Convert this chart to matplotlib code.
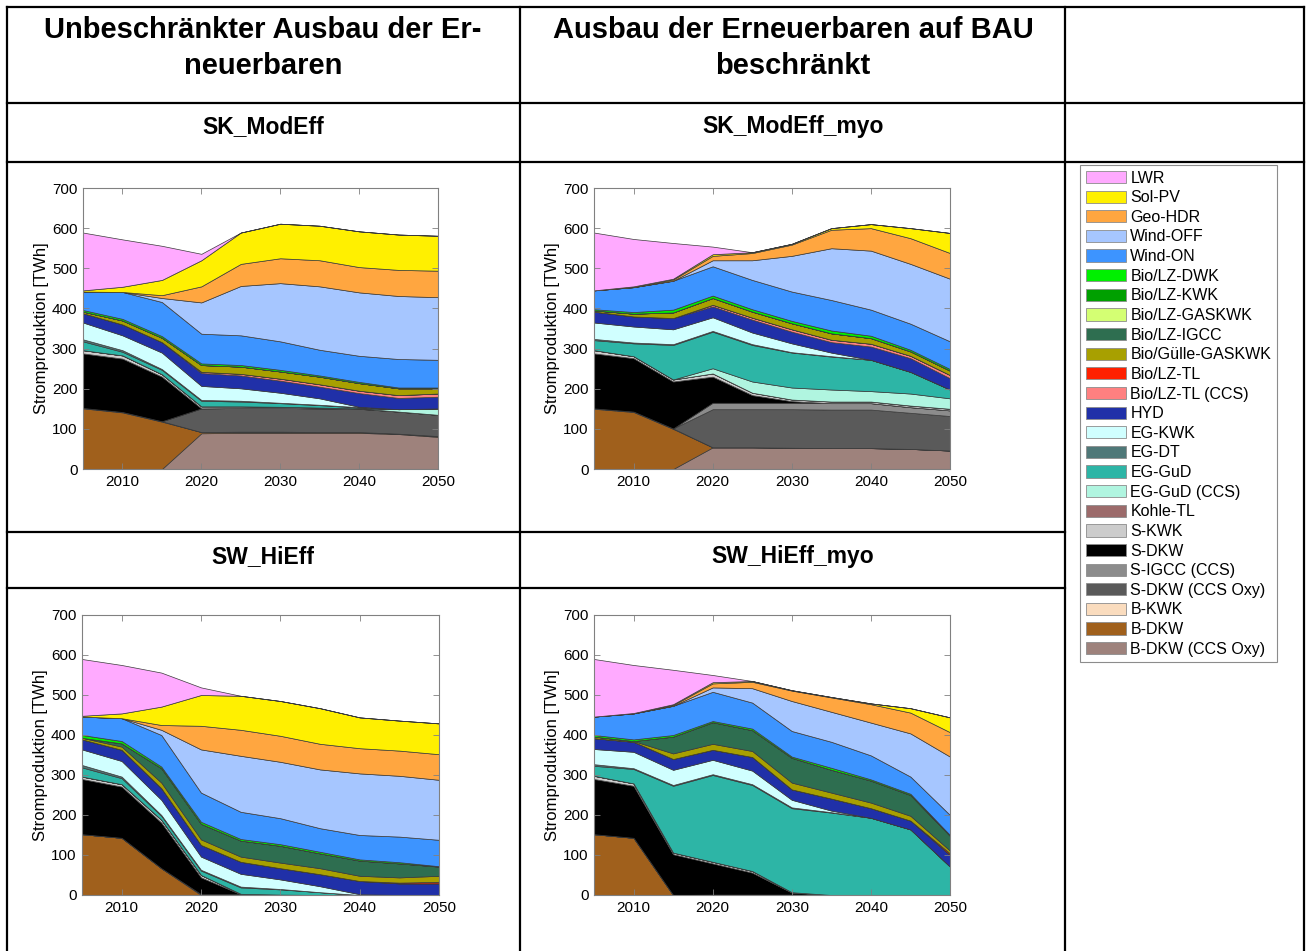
import matplotlib

matplotlib.use("Agg")

import matplotlib.pyplot as plt
import numpy as np
from matplotlib.lines import Line2D
from matplotlib.patches import Patch

plt.rcParams["font.family"] = ["Liberation Sans", "DejaVu Sans"]

W, H = 1308, 951

YEARS = [2005, 2010, 2015, 2020, 2025, 2030, 2035, 2040, 2045, 2050]

TECHS = [
    "LWR", "Sol-PV", "Geo-HDR", "Wind-OFF", "Wind-ON",
    "Bio/LZ-DWK", "Bio/LZ-KWK", "Bio/LZ-GASKWK", "Bio/LZ-IGCC", "Bio/Gülle-GASKWK",
    "Bio/LZ-TL", "Bio/LZ-TL (CCS)", "HYD", "EG-KWK", "EG-DT",
    "EG-GuD", "EG-GuD (CCS)", "Kohle-TL", "S-KWK", "S-DKW",
    "S-IGCC (CCS)", "S-DKW (CCS Oxy)", "B-KWK", "B-DKW", "B-DKW (CCS Oxy)",
]

COLORS = [
    "#FFAAFF", "#FFF000", "#FFA640", "#A6C6FF", "#3D94FF",
    "#00F000", "#00A000", "#D4FF73", "#2E6E50", "#A8A000",
    "#FF2000", "#FF8080", "#2030A8", "#D0FFFF", "#4F7878",
    "#2DB5A6", "#B0F5E0", "#9C6B6B", "#CCCCCC", "#000000",
    "#8C8C8C", "#5A5A5A", "#FADCBE", "#A0601C", "#9E827C",
]

Z = [0, 0, 0, 0, 0, 0, 0, 0, 0, 0]

# TWh per technology, same order as TECHS (legend order, top of stack first)
SK_MODEFF = [
    [144, 118, 85, 16, 0, 0, 0, 0, 0, 0],
    [3, 13, 38, 65, 78, 86, 86, 89, 88, 87],
    [0, 0, 7, 40, 55, 62, 65, 63, 65, 66],
    [0, 0, 10, 78, 123, 145, 158, 158, 157, 156],
    [46, 67, 85, 74, 74, 71, 64, 65, 71, 69],
    [4, 4, 4, 4, 4, 4, 3, 3, 2, 2],
    Z, Z, Z,
    [4, 10, 11, 17, 18, 18, 19, 19, 17, 13],
    Z,
    [0, 0, 0, 3, 4, 5, 6, 6, 7, 8],
    [23, 27, 26, 32, 32, 30, 29, 34, 28, 29],
    [42, 37, 41, 35, 31, 25, 16, 1, 0, 0],
    [5, 4, 2, 2, 2, 1, 1, 1, 0, 0],
    [22, 9, 11, 14, 12, 9, 6, 2, 0, 0],
    [0, 0, 0, 0, 0, 0, 0, 0, 6, 16],
    Z,
    [8, 8, 6, 5, 4, 3, 2, 1, 0, 0],
    [136, 133, 111, 0, 0, 0, 0, 0, 0, 0],
    Z,
    [0, 0, 0, 59, 59, 59, 59, 58, 55, 53],
    [1, 1, 1, 0, 0, 0, 0, 0, 0, 0],
    [151, 141, 118, 3, 3, 3, 2, 2, 1, 2],
    [0, 0, 0, 89, 90, 90, 90, 90, 87, 80],
]

SK_MODEFF_MYO = [
    [144, 118, 89, 19, 0, 0, 0, 0, 0, 0],
    [0, 2, 2, 4, 2, 2, 4, 10, 25, 50],
    [0, 0, 3, 11, 18, 28, 46, 56, 64, 64],
    [0, 0, 0, 15, 49, 89, 129, 147, 149, 156],
    [47, 62, 72, 73, 73, 73, 76, 65, 65, 69],
    [3, 4, 7, 6, 6, 6, 7, 6, 4, 4],
    Z, Z, Z,
    [3, 7, 14, 17, 15, 15, 16, 14, 11, 11],
    Z,
    [0, 0, 0, 4, 5, 6, 6, 7, 6, 8],
    [27, 25, 28, 27, 32, 29, 26, 33, 34, 28],
    [41, 40, 37, 34, 29, 22, 9, 0, 0, 0],
    [3, 2, 2, 2, 2, 1, 1, 0, 0, 0],
    [25, 32, 86, 91, 91, 87, 82, 78, 54, 22],
    [0, 0, 0, 13, 28, 30, 30, 26, 30, 26],
    Z,
    [8, 5, 5, 8, 6, 4, 4, 4, 4, 4],
    [137, 133, 117, 65, 19, 4, 0, 0, 0, 0],
    [0, 0, 0, 16, 16, 16, 16, 16, 14, 14],
    [0, 0, 0, 95, 95, 96, 96, 96, 90, 86],
    [1, 1, 1, 0, 0, 0, 0, 0, 0, 0],
    [150, 142, 100, 0, 0, 0, 0, 0, 0, 0],
    [0, 0, 0, 54, 54, 53, 52, 52, 50, 46],
]

SW_HIEFF = [
    [142, 121, 85, 19, 0, 0, 0, 0, 0, 0],
    [2, 12, 46, 77, 85, 87, 89, 77, 75, 77],
    [0, 0, 12, 59, 65, 65, 64, 63, 63, 64],
    [0, 0, 13, 108, 140, 141, 147, 154, 152, 150],
    [46, 57, 79, 73, 68, 65, 59, 61, 64, 66],
    [7, 6, 4, 5, 4, 4, 4, 3, 3, 1],
    Z, Z,
    [0, 8, 36, 39, 40, 42, 37, 38, 35, 23],
    [4, 8, 14, 14, 13, 14, 15, 13, 13, 15],
    [0, 0, 0, 0, 0, 0, 0, 0, 2, 4],
    Z,
    [25, 28, 29, 29, 30, 28, 30, 33, 29, 29],
    [39, 39, 38, 33, 32, 24, 15, 2, 0, 0],
    [6, 4, 2, 2, 2, 1, 0, 0, 0, 0],
    [23, 15, 10, 11, 16, 13, 7, 0, 0, 0],
    Z, Z,
    [6, 6, 7, 6, 1, 0, 0, 0, 0, 0],
    [138, 128, 114, 42, 0, 0, 0, 0, 0, 0],
    Z, Z,
    [0, 0, 0, 2, 2, 1, 0, 0, 0, 0],
    [152, 143, 67, 0, 0, 0, 0, 0, 0, 0],
    Z,
]

SW_HIEFF_MYO = [
    [144, 120, 86, 18, 0, 0, 0, 0, 0, 0],
    [0, 1, 2, 3, 2, 1, 1, 2, 11, 37],
    [0, 0, 2, 10, 16, 26, 36, 46, 52, 61],
    [0, 0, 0, 11, 36, 75, 75, 82, 108, 146],
    [46, 65, 73, 73, 65, 64, 65, 60, 43, 50],
    [4, 4, 4, 3, 4, 3, 5, 3, 3, 2],
    Z, Z,
    [0, 0, 42, 54, 52, 62, 57, 55, 52, 37],
    [4, 2, 14, 15, 15, 17, 15, 14, 12, 7],
    [0, 0, 0, 0, 0, 0, 0, 0, 0, 4],
    Z,
    [27, 25, 27, 25, 34, 26, 30, 24, 22, 29],
    [38, 41, 38, 36, 34, 19, 4, 0, 0, 0],
    [4, 2, 2, 2, 2, 2, 1, 0, 0, 0],
    [25, 36, 167, 217, 215, 210, 206, 193, 164, 71],
    Z, Z,
    [8, 6, 4, 4, 4, 1, 0, 0, 0, 0],
    [138, 130, 102, 78, 55, 5, 0, 0, 0, 0],
    Z, Z,
    [0, 0, 0, 1, 1, 1, 0, 0, 0, 0],
    [152, 143, 0, 0, 0, 0, 0, 0, 0, 0],
    Z,
]

HEADER_LEFT = ["Unbeschränkter Ausbau der Er-", "neuerbaren"]
HEADER_MID = ["Ausbau der Erneuerbaren auf BAU", "beschränkt"]
SCENARIOS = [
    ("SK_ModEff", SK_MODEFF, (83, 188, 438, 469), (263, 127)),
    ("SK_ModEff_myo", SK_MODEFF_MYO, (594, 188, 950, 469), (793, 127)),
    ("SW_HiEff", SW_HIEFF, (82, 615, 439, 895), (263, 557)),
    ("SW_HiEff_myo", SW_HIEFF_MYO, (594, 615, 950, 895), (793, 557)),
]


def fx(x):
    return x / W


def fy(y):
    return 1 - y / H


def draw_chart(fig, box, data):
    x0, y0, x1, y1 = box
    ax = fig.add_axes([fx(x0), fy(y1), (x1 - x0) / W, (y1 - y0) / H])
    # stack from the bottom of the legend upwards
    layers = np.array(data[::-1], dtype=float)
    ax.stackplot(YEARS, layers, colors=COLORS[::-1], edgecolor="#3a3a3a", linewidth=0.5)
    ax.set_xlim(2005, 2050)
    ax.set_ylim(0, 700)
    ax.set_xticks([2010, 2020, 2030, 2040, 2050])
    ax.set_yticks(range(0, 701, 100))
    ax.tick_params(direction="in", length=4, width=0.6, color="#808080",
                   top=True, right=True, labelsize=11, pad=4)
    ax.set_ylabel("Stromproduktion [TWh]", fontsize=12, labelpad=2)
    for spine in ax.spines.values():
        spine.set_color("#808080")
        spine.set_linewidth(0.8)
    return ax


def line(fig, xa, ya, xb, yb):
    fig.add_artist(Line2D([fx(xa), fx(xb)], [fy(ya), fy(yb)], color="black",
                          linewidth=1.6, transform=fig.transFigure))


fig = plt.figure(figsize=(W / 100, H / 100), dpi=100)
fig.patch.set_facecolor("white")

# table grid
for yy in (7, 103, 162):
    line(fig, 7, yy, 1304, yy)
for yy in (532, 588):
    line(fig, 7, yy, 1065, yy)
for xx in (7, 520, 1065, 1304):
    line(fig, xx, 7, xx, H)

head_kw = dict(ha="center", va="center", fontsize=21, fontweight="bold")
fig.text(fx(263), fy(30), HEADER_LEFT[0], **head_kw)
fig.text(fx(263), fy(66), HEADER_LEFT[1], **head_kw)
fig.text(fx(793), fy(30), HEADER_MID[0], **head_kw)
fig.text(fx(793), fy(66), HEADER_MID[1], **head_kw)

for title, data, box, (tx, ty) in SCENARIOS:
    fig.text(fx(tx), fy(ty), title, ha="center", va="center", fontsize=16.5, fontweight="bold")
    draw_chart(fig, box, data)

handles = [Patch(facecolor=c, edgecolor="#8c8c8c", linewidth=0.6) for c in COLORS]
leg = fig.legend(handles, TECHS, loc="upper left", bbox_to_anchor=(fx(1080), fy(165)),
                 fontsize=11.5, handlelength=2.5, handleheight=0.8, labelspacing=0.29,
                 borderpad=0.35, handletextpad=0.3, borderaxespad=0, fancybox=False,
                 framealpha=1)
leg.get_frame().set_edgecolor("#8c8c8c")
leg.get_frame().set_linewidth(0.8)

fig.savefig("out.png", dpi=100)
